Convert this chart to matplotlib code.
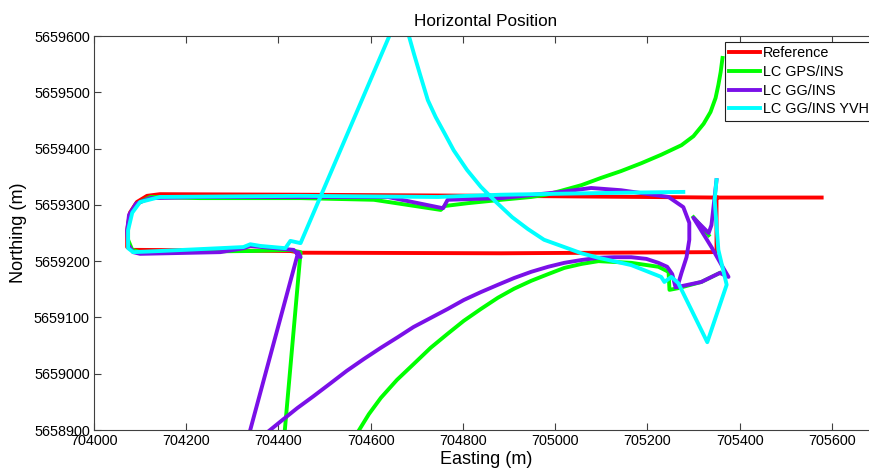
import numpy as np
import matplotlib
matplotlib.use("Agg")
import matplotlib.pyplot as plt

plt.rcParams['font.family'] = ['Liberation Sans', 'DejaVu Sans']

# Reference trajectory (easting / northing, m)
ref_e = [705578, 705350, 704883, 704448, 704143, 704115, 704093, 704078, 704072,
         704072, 704083, 704100, 704426, 704448, 704883, 705340, 705350, 705350]
ref_n = [5659313, 5659313, 5659316, 5659318, 5659319, 5659316, 5659305, 5659286, 5659255,
         5659225, 5659220, 5659220, 5659218, 5659215, 5659214, 5659216, 5659217, 5659313]

# LC GPS/INS solution, pieces separated by NaN
gps_e = [704411, 704448, 704426, 704339, 704100, 704083, 704074, 704074, 704080, 704096,
         704122, 704230, 704448, 704607, 704752, 704761, 704811, 704883, 704948, 704980,
         705013, 705057, 705100, 705143, 705187, 705230, 705274, 705300, 705322, 705337,
         705348, 705354, 705359, 705363, np.nan,
         704559, 704572, 704596, 704622, 704657, 704693, 704730, 704767, 704802, 704839,
         704876, 704911, 704948, 704985, 705020, 705057, 705094, 705165, 705224, 705246,
         705248, 705267, 705317, 705357, np.nan,
         705300, 705333]
gps_n = [5658873, 5659216, 5659220, 5659218, 5659216, 5659220, 5659238, 5659264, 5659286, 5659303,
         5659314, 5659312, 5659312, 5659309, 5659291, 5659298, 5659303, 5659309, 5659314, 5659318,
         5659325, 5659335, 5659348, 5659360, 5659374, 5659389, 5659406, 5659422, 5659444, 5659465,
         5659490, 5659513, 5659536, 5659561, np.nan,
         5658873, 5658896, 5658928, 5658957, 5658989, 5659017, 5659046, 5659071, 5659094, 5659115,
         5659135, 5659151, 5659165, 5659177, 5659188, 5659195, 5659200, 5659197, 5659190, 5659181,
         5659149, 5659152, 5659163, 5659179, np.nan,
         5659278, 5659246]

# LC GG/INS solution
gg_e = [704330, 704443, 704448, 704433, 704339, 704324, 704274, 704100, 704085, 704074,
        704072, 704076, 704091, 704122, 704230, 704637, 704757, 704767, 704883, 705013,
        705078, 705143, 705246, 705278, 705291, 705291, 705285, 705274, 705265, 705317,
        705357, 705376, 705361, 705339, 705300, 705333, 705339, 705350, np.nan,
        704343, 704376, 704409, 704441, 704476, 704513, 704548, 704585, 704622, 704659,
        704693, 704730, 704767, 704802, 704839, 704876, 704911, 704948, 704985, 705020,
        705057, 705094, 705128, 705165, 705198, 705224, 705243, 705254, 705261]
gg_n = [5658873, 5659216, 5659207, 5659220, 5659227, 5659223, 5659216, 5659213, 5659216, 5659229,
        5659255, 5659282, 5659302, 5659312, 5659314, 5659314, 5659294, 5659309, 5659312, 5659323,
        5659330, 5659326, 5659314, 5659296, 5659268, 5659238, 5659207, 5659179, 5659154, 5659163,
        5659179, 5659172, 5659193, 5659225, 5659277, 5659250, 5659264, 5659344, np.nan,
        5658873, 5658896, 5658918, 5658939, 5658960, 5658983, 5659005, 5659026, 5659046, 5659065,
        5659083, 5659099, 5659115, 5659131, 5659145, 5659158, 5659170, 5659181, 5659190, 5659197,
        5659202, 5659206, 5659207, 5659207, 5659204, 5659197, 5659190, 5659177, 5659154]

# LC GG/INS YVH solution
yvh_e = [705278, 705100, 704883, 704811, 704746, 704448, 704143, 704100, 704083, 704074,
         704074, 704085, 704143, 704324, 704339, 704361, 704415, 704426, 704448, 704663,
         704683, 704694, 704707, 704724, 704741, 704761, 704780, 704809, 704839, 704872,
         704907, 704941, 704976, 705020, 705057, 705094, 705165, 705193, 705230, 705237,
         705252, 705267, 705330, 705372, 705354, 705346, 705350]
yvh_n = [5659323, 5659321, 5659318, 5659316, 5659314, 5659316, 5659314, 5659305, 5659286, 5659255,
         5659223, 5659216, 5659218, 5659225, 5659230, 5659227, 5659223, 5659236, 5659232, 5659643,
         5659600, 5659568, 5659532, 5659486, 5659456, 5659426, 5659397, 5659362, 5659332, 5659305,
         5659278, 5659257, 5659238, 5659225, 5659214, 5659206, 5659193, 5659184, 5659172, 5659163,
         5659172, 5659161, 5659056, 5659158, 5659220, 5659309, 5659344]

x_ticks = list(range(704000, 705601, 200))
y_ticks = list(range(5658900, 5659601, 100))


def plot_positions(out_name="out"):
    fig = plt.figure(figsize=(8.7, 4.7), dpi=100)
    ax = fig.add_axes([0.108, 0.0851, 0.9011, 0.8383])

    lw = 2.8
    ax.plot(ref_e, ref_n, color='#FF0000', lw=lw, label='Reference')
    ax.plot(gps_e, gps_n, color='#00FF00', lw=lw, label='LC GPS/INS')
    ax.plot(gg_e, gg_n, color='#7A10E8', lw=lw, label='LC GG/INS')
    ax.plot(yvh_e, yvh_n, color='#00FFFF', lw=lw, label='LC GG/INS YVH')

    ax.set_xlim(704000, 705700)
    ax.set_ylim(5658900, 5659600)
    ax.set_xticks(x_ticks)
    ax.set_xticklabels([str(v) for v in x_ticks])
    ax.set_yticks(y_ticks)
    ax.set_yticklabels([str(v) for v in y_ticks])
    ax.tick_params(direction='in', length=5, width=0.8, labelsize=10.4, color='#404040',
                   top=True, right=True, pad=3)
    for s in ax.spines.values():
        s.set_color('#404040')
        s.set_linewidth(0.8)

    ax.set_title('Horizontal Position', fontsize=12.3, pad=7)
    ax.set_xlabel('Easting (m)', fontsize=13, labelpad=2)
    ax.set_ylabel('Northing (m)', fontsize=13, labelpad=5)

    leg = ax.legend(loc='upper right', bbox_to_anchor=(0.9936, 0.9848), borderaxespad=0,
                    fontsize=10.4, handlelength=2.1, handletextpad=0.2, labelspacing=0.32,
                    borderpad=0.3, fancybox=False, framealpha=1, edgecolor='#202020')
    leg.get_frame().set_linewidth(0.8)

    fig.savefig(f"{out_name}.png", dpi=100)


def main():
    plot_positions("out")


if __name__ == "__main__":
    main()
